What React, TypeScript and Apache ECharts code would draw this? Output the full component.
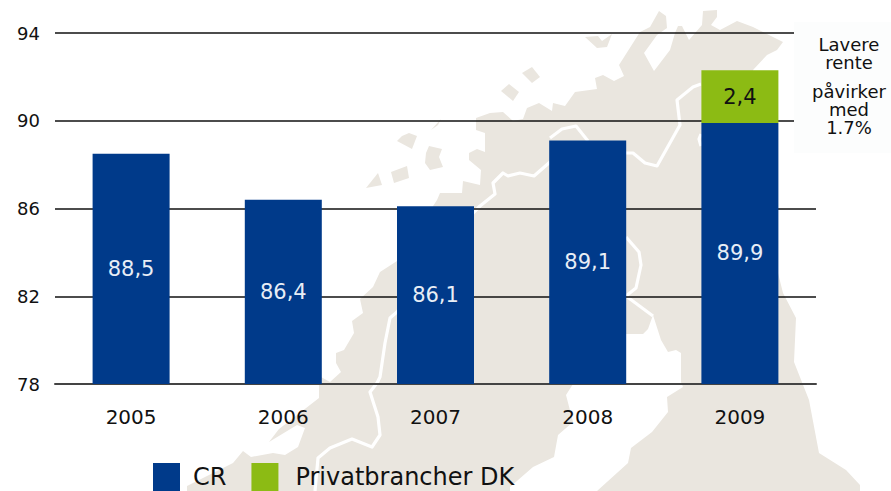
import React, { useEffect, useRef } from "react";
import * as echarts from "echarts";

const categories = ["2005", "2006", "2007", "2008", "2009"];
const crValues = [88.5, 86.4, 86.1, 89.1, 89.9];
const privatValues = [null, null, null, null, 2.4];
const totalValues = [null, null, null, null, 92.3];
const FONT = "'DejaVu Sans', Verdana, sans-serif";
const LAND = "#EAE6DF";

const landOutline = [
  [187,491],[187,486],[233,463],[243,451],[251,457],[273,453],[285,455],[298,447],[305,428],[297,425],[269,442],[279,429],[319,398],[319,385],
  [321,377],[330,382],[341,372],[336,363],[336,353],[344,350],[354,333],[352,321],[363,313],[360,299],[373,287],[380,272],[397,261],
  [437,200],[440,193],[462,193],[463,181],[480,185],[481,170],[469,160],[469,153],[477,149],[485,152],[485,133],[476,130],[476,118],[490,113],[503,112],[513,121],[523,119],
  [527,108],[539,103],[552,111],[553,103],[565,106],[575,92],[597,89],[595,78],[603,75],[614,81],[624,76],[619,65],[640,32],
  [650,27],[659,11],[666,16],[667,28],[657,35],[644,53],[654,71],[670,50],[675,33],[678,26],[682,26],[689,40],[702,25],[703,11],[717,10],[717,17],[711,25],[720,30],[737,21],[753,27],[783,42],[777,50],[767,55],[753,70],
  [770,240],[778,273],[783,293],[796,318],[794,362],[809,400],[819,453],[846,470],[860,485],[860,491],
  [597,491],[628,463],[631,448],[652,432],[668,412],[667,397],[683,387],[681,382],[681,353],[676,350],[668,352],[661,340],[653,315],[648,329],[643,334],[626,334],[590,360],[573,384],
  [566,395],[573,422],[558,435],[554,457],[533,467],[510,487],[510,491],
];
const islands = [
  [[585,37],[598,36],[602,41],[612,34],[607,47],[597,48]],
  [[522,73],[532,67],[540,77],[532,83]],
  [[501,91],[509,84],[519,92],[513,101]],
  [[441,119],[438,125],[431,130]],
  [[397,141],[402,136],[409,133],[417,136],[412,149]],
  [[429,146],[442,149],[439,157],[443,167],[430,170],[425,163],[426,153]],
  [[391,172],[407,166],[409,178],[394,183]],
  [[378,173],[382,185],[366,188]],
];
const borders = [
  [[315,491],[318,458],[330,448],[352,439],[372,447],[380,435],[378,417],[370,392],[377,383],[380,377],[385,343],[390,318],[397,312],[474,212],[480,206],[495,194],[493,183],[503,173],[508,176],[520,173],[534,176],[550,162],[560,150]],
  [[550,138],[562,129],[576,126],[588,141]],
  [[620,150],[626,153],[633,153],[645,163],[657,166],[680,125],[677,100],[693,87],[701,84]],
  [[626,237],[639,252],[641,265],[636,288],[626,296],[653,316]],
  [[701,134],[699,139],[701,146]],
];

export default function App() {
  const ref = useRef<HTMLDivElement>(null);
  useEffect(() => {
    const chart = echarts.init(ref.current!, undefined, { renderer: "svg" });
    const labelFmt = (p: any) => String(p.value).replace(".", ",");
    chart.setOption({
      animation: false,
      backgroundColor: "#fff",
      grid: { left: 55, right: 75, top: 33, bottom: 107 },
      legend: {
        data: [
          { name: "CR" },
          { name: "Privatbrancher DK", textStyle: { padding: [0, 0, 0, 12] } },
        ],
        left: 153,
        top: 463,
        padding: 0,
        itemWidth: 27,
        itemHeight: 28,
        itemGap: 25,
        icon: "rect",
        textStyle: { fontFamily: FONT, fontSize: 24, color: "#111", padding: [0, 0, 0, 8] },
      },
      xAxis: {
        type: "category",
        data: categories,
        axisTick: { show: false },
        axisLine: { show: true, lineStyle: { color: "#444", width: 2 } },
        axisLabel: { fontFamily: FONT, fontSize: 20, color: "#111", margin: 23 },
      },
      yAxis: {
        type: "value",
        min: 78,
        max: 94,
        interval: 4,
        axisLine: { show: false },
        axisTick: { show: false },
        axisLabel: { fontFamily: FONT, fontSize: 18, color: "#111", margin: 15 },
        splitLine: { lineStyle: { color: "#111", width: 1.5 } },
      },
      series: [
        {
          name: "CR",
          type: "bar",
          stack: "a",
          barWidth: 77,
          data: crValues,
          itemStyle: { color: "#003A8A" },
          label: { show: true, position: "inside", formatter: labelFmt, fontFamily: FONT, fontSize: 21, color: "#E8EEF6" },
        },
        {
          name: "Privatbrancher DK",
          type: "bar",
          stack: "a",
          barWidth: 77,
          data: privatValues,
          itemStyle: { color: "#8CBB14" },
          label: { show: true, position: "inside", formatter: labelFmt, fontFamily: FONT, fontSize: 21, color: "#111" },
        },
        {
          name: "Total",
          type: "line",
          data: totalValues,
          symbol: "none",
          lineStyle: { opacity: 0 },
          label: { show: true, position: "top", distance: 4, formatter: labelFmt, fontFamily: FONT, fontSize: 21, color: "#111" },
        },
      ],
      graphic: [
        {
          type: "group",
          z: -1,
          silent: true,
          children: [
            { type: "polygon", z: -1, shape: { points: landOutline }, style: { fill: LAND } },
            ...islands.map((points) => ({ type: "polygon", z: -1, shape: { points }, style: { fill: LAND } })),
            ...borders.map((points) => ({
              type: "polyline",
              z: -1,
              shape: { points },
              style: { stroke: "#fff", lineWidth: 3.2, fill: "none", lineJoin: "round" },
            })),
          ],
        },
        {
          type: "rect",
          z: 10,
          shape: { x: 794, y: 22, width: 97, height: 131 },
          style: { fill: "#FCFDFD" },
        },
        {
          type: "text",
          z: 11,
          x: 849,
          y: 36,
          style: { text: "Lavere\nrente", fontFamily: FONT, fontSize: 18, lineHeight: 17.5, fill: "#111", align: "center" },
        },
        {
          type: "text",
          z: 11,
          x: 849,
          y: 82,
          style: { text: "påvirker\nmed\n1.7%", fontFamily: FONT, fontSize: 18, lineHeight: 18, fill: "#111", align: "center" },
        },
      ],
    });
    return () => chart.dispose();
  }, []);
  return <div ref={ref} style={{ position: "fixed", left: 0, top: 0, width: 891, height: 491 }} />;
}
